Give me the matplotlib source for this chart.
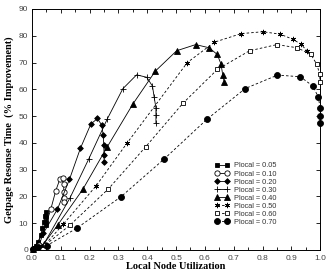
import matplotlib
matplotlib.use("Agg")
import matplotlib.pyplot as plt
from matplotlib.ticker import MultipleLocator

# ---- data ----
pl005_x = [0.003, 0.012, 0.022, 0.030, 0.036, 0.040, 0.044, 0.047, 0.050, 0.050, 0.050]
pl005_y = [0.3, 1.5, 3.1, 5.6, 8.1, 10.5, 12.5, 14.3, 12.4, 10.5, 9.5]

pl010_x = [0.003, 0.025, 0.065, 0.082, 0.097, 0.106, 0.110, 0.110, 0.110, 0.110]
pl010_y = [0.3, 1.8, 15.2, 22.0, 26.6, 26.8, 24.6, 21.8, 19.3, 17.8]

pl020_x = [0.003, 0.039, 0.088, 0.130, 0.168, 0.204, 0.227, 0.242, 0.247, 0.249, 0.250, 0.250]
pl020_y = [0.3, 6.2, 15.2, 26.4, 38.0, 47.0, 49.1, 46.6, 42.9, 39.2, 35.4, 32.9]

pl030_x = [0.003, 0.040, 0.132, 0.196, 0.261, 0.315, 0.363, 0.398, 0.418, 0.424, 0.430, 0.430, 0.430]
pl030_y = [0.3, 2.0, 19.5, 33.8, 48.9, 60.2, 65.4, 64.5, 61.2, 57.0, 53.1, 50.4, 47.3]

pl040_x = [0.003, 0.040, 0.089, 0.176, 0.261, 0.350, 0.428, 0.502, 0.568, 0.615, 0.643, 0.656, 0.662, 0.667]
pl040_y = [0.3, 2.2, 9.3, 22.6, 38.5, 54.5, 66.8, 74.4, 76.7, 75.5, 73.0, 69.4, 65.3, 62.8]

pl050_x = [0.003, 0.045, 0.109, 0.222, 0.329, 0.539, 0.633, 0.726, 0.801, 0.861, 0.905, 0.934, 0.954]
pl050_y = [0.3, 2.0, 9.7, 23.9, 39.8, 70.0, 77.6, 80.8, 81.5, 80.6, 78.7, 76.8, 74.4]

pl060_x = [0.003, 0.045, 0.132, 0.265, 0.395, 0.523, 0.643, 0.755, 0.850, 0.921, 0.968, 0.988, 0.998, 1.000]
pl060_y = [0.3, 1.8, 9.3, 22.8, 38.6, 54.7, 67.4, 74.4, 76.7, 75.5, 73.0, 69.4, 65.9, 62.8]

pl070_x = [0.003, 0.020, 0.051, 0.155, 0.309, 0.459, 0.607, 0.740, 0.852, 0.931, 0.975, 0.994, 1.000, 1.000, 1.000]
pl070_y = [0.3, 1.0, 1.6, 8.1, 19.9, 34.0, 48.8, 60.3, 65.3, 64.7, 61.2, 57.0, 52.9, 50.1, 47.3]

labels = ["Plocal = 0.05", "Plocal = 0.10", "Plocal = 0.20", "Plocal = 0.30",
          "Plocal = 0.40", "Plocal = 0.50", "Plocal = 0.60", "Plocal = 0.70"]

x_label = "Local Node Utilization"
y_label = "Getpage Resonse Time  (% Improvement)"

# ---- figure ----
fig = plt.figure(figsize=(3.27, 2.72), dpi=100)
ax = fig.add_axes([0.098, 0.081, 0.881, 0.886])

dash = (0, (3, 2.5))
series = [
    (pl005_x, pl005_y, dict(marker='s', ms=3.2, mfc='black', ls='-')),
    (pl010_x, pl010_y, dict(marker='o', ms=3.8, mfc='white', ls='-')),
    (pl020_x, pl020_y, dict(marker='D', ms=2.9, mfc='black', ls='-')),
    (pl030_x, pl030_y, dict(marker='+', ms=4.5, mfc='black', ls='-')),
    (pl040_x, pl040_y, dict(marker='^', ms=3.8, mfc='black', ls='-')),
    (pl050_x, pl050_y, dict(marker=(6, 2, 0), ms=3.8, mfc='black', ls=dash)),
    (pl060_x, pl060_y, dict(marker='s', ms=3.3, mfc='white', ls=dash)),
    (pl070_x, pl070_y, dict(marker='o', ms=4.3, mfc='black', ls=dash)),
]

for (xs, ys, st), lab in zip(series, labels):
    ax.plot(xs, ys, color='black', lw=0.6, mec='black', mew=0.6,
            label=lab, clip_on=False, zorder=3, **st)

ax.set_xlim(0.0, 1.0)
ax.set_ylim(0, 90)
ax.xaxis.set_major_locator(MultipleLocator(0.1))
ax.xaxis.set_minor_locator(MultipleLocator(0.05))
ax.yaxis.set_major_locator(MultipleLocator(10))
ax.tick_params(which='both', direction='in', top=True, right=True,
               labelsize=6, labelcolor='#444444', width=0.6)
ax.tick_params(axis='x', pad=3.5)
ax.tick_params(axis='y', pad=3)
ax.tick_params(which='major', length=3)
ax.tick_params(which='minor', length=2)
ax.xaxis.set_major_formatter(plt.FuncFormatter(lambda v, p: f"{v:.1f}"))
for lab in ax.get_xticklabels() + ax.get_yticklabels():
    lab.set_family('Liberation Sans')
for s in ax.spines.values():
    s.set_linewidth(0.7)

ax.set_xlabel(x_label, family='Liberation Serif', fontweight='bold', fontsize=7.5, labelpad=0)
ax.set_ylabel(y_label, family='Liberation Serif', fontweight='bold', fontsize=7.5, labelpad=3)

leg = ax.legend(loc='upper left', bbox_to_anchor=(0.615, 0.385), frameon=False,
                handlelength=2.0, numpoints=2, labelspacing=0.12,
                handletextpad=0.6, borderpad=0.2,
                prop={'family': 'Liberation Sans', 'size': 5.3})
for t in leg.get_texts():
    t.set_color('#333333')

fig.savefig("out.png", dpi=100)
